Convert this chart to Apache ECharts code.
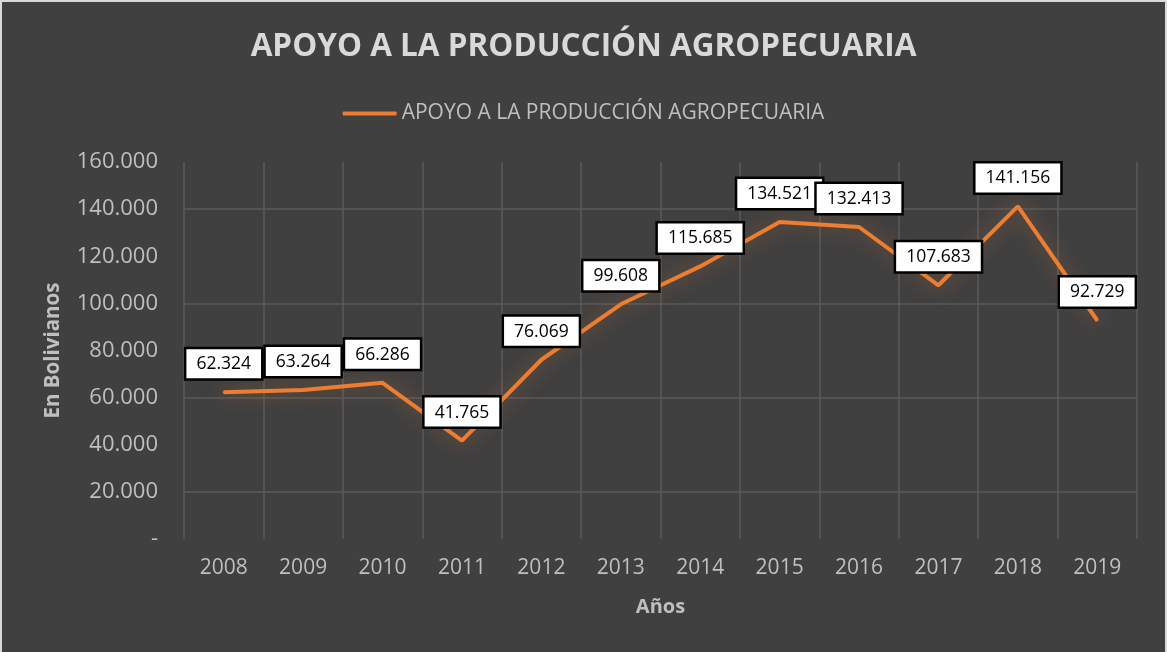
<!DOCTYPE html>
<html>
<head>
<meta charset="utf-8">
<script src="https://cdn.jsdelivr.net/npm/echarts@6/dist/echarts.min.js"></script>
<style>
  html, body { margin: 0; padding: 0; background: #d9d9d9; width: 1167px; height: 652px; overflow: hidden; }
  #chart { position: absolute; left: 2px; top: 2px; width: 1163px; height: 650px; background: #404040; }
</style>
</head>
<body>
<div id="chart"></div>
<script>
const titleText = 'APOYO A LA PRODUCCIÓN AGROPECUARIA';
const seriesName = 'APOYO A LA PRODUCCIÓN AGROPECUARIA';
const years = ['2008','2009','2010','2011','2012','2013','2014','2015','2016','2017','2018','2019'];
const values = [62324, 63264, 66286, 41765, 76069, 99608, 115685, 134521, 132413, 107683, 141156, 92729];
const yMin = 0, yMax = 160000, yStep = 20000;
const yAxisTitle = 'En Bolivianos';
const xAxisTitle = 'Años';

function fmt(v) {
  if (v === 0) return '-';
  return String(Math.round(v)).replace(/\B(?=(\d{3})+(?!\d))/g, '.');
}

const FONT = 'Open Sans';
const chart = echarts.init(document.getElementById('chart'));
chart.setOption({
  backgroundColor: '#404040',
  animation: false,
  title: {
    text: titleText,
    left: 'center',
    top: 24,
    textStyle: { color: '#d9d9d9', fontFamily: FONT, fontWeight: 'bold', fontSize: 31.5 }
  },
  legend: {
    top: 96,
    left: 'center',
    itemWidth: 54,
    itemHeight: 4,
    itemGap: 6,
    data: [{ name: seriesName, icon: 'roundRect', itemStyle: { color: '#ED7D31', opacity: 1 } }],
    textStyle: { color: '#bfbfbf', fontFamily: FONT, fontSize: 21, padding: [0, 0, 0, 0] }
  },
  grid: { left: 182, right: 28, top: 160, bottom: 113, containLabel: false },
  xAxis: {
    type: 'category',
    data: years,
    boundaryGap: true,
    name: xAxisTitle,
    nameLocation: 'middle',
    nameGap: 58,
    nameTextStyle: { color: '#bfbfbf', fontFamily: FONT, fontWeight: 'bold', fontSize: 20 },
    axisLine: { show: false },
    axisTick: { show: false },
    axisLabel: { color: '#bfbfbf', fontFamily: FONT, fontSize: 21, margin: 19 },
    splitLine: { show: true, interval: 0, lineStyle: { color: '#5a5a5a', width: 1.5 } }
  },
  yAxis: {
    type: 'value',
    min: yMin, max: yMax, interval: yStep,
    name: yAxisTitle,
    nameLocation: 'middle',
    nameGap: 120,
    nameRotate: 90,
    nameTextStyle: { color: '#bfbfbf', fontFamily: FONT, fontWeight: 'bold', fontSize: 20.5 },
    axisLine: { show: false },
    axisTick: { show: false },
    axisLabel: { color: '#bfbfbf', fontFamily: FONT, fontSize: 22, margin: 26, formatter: fmt },
    splitLine: { show: true, lineStyle: { color: ['transparent', '#5a5a5a'], width: 1.5 } }
  },
  series: [{
    name: seriesName,
    type: 'line',
    data: values,
    symbol: 'circle',
    symbolSize: 2,
    showSymbol: true,
    lineStyle: {
      color: '#ED7D31', width: 4,
      shadowColor: 'rgba(237,125,49,0.5)', shadowBlur: 20
    },
    itemStyle: { color: '#ED7D31' },
    label: {
      show: true,
      position: 'top',
      distance: 13,
      formatter: function (p) { return fmt(p.value); },
      color: '#000',
      fontFamily: FONT,
      fontSize: 17.5,
      backgroundColor: '#fff',
      borderColor: '#000',
      borderWidth: 2.5,
      padding: [6, 10, 5, 10]
    }
  }]
});
</script>
</body>
</html>
